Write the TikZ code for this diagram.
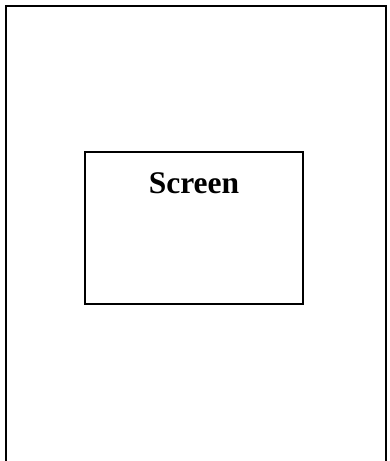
\documentclass[tikz,border=0pt]{standalone}
\usepackage{fontspec}
\setmainfont{Liberation Serif}
\usetikzlibrary{positioning}

\begin{document}
\begin{tikzpicture}[
    x=1pt,y=-1pt,
    frame/.style={draw,line width=1.6pt,inner sep=0pt,outer sep=0pt},
    title/.style={font=\fontsize{31.5}{36}\selectfont\bfseries,inner sep=0pt,anchor=base}
]
\useasboundingbox (0,0) rectangle (389,461);
\clip (0,0) rectangle (389,461);
\coordinate (page-nw) at (6,6);
\coordinate (page-se) at (386,490);
\draw[line width=1.6pt] (page-se) rectangle (page-nw);
\node[frame,minimum width=218pt,minimum height=152pt,anchor=north west] (screen) at (85,152) {};
\node[title] (label) at ([yshift=-41pt]screen.north) {Screen};
\end{tikzpicture}
\end{document}
